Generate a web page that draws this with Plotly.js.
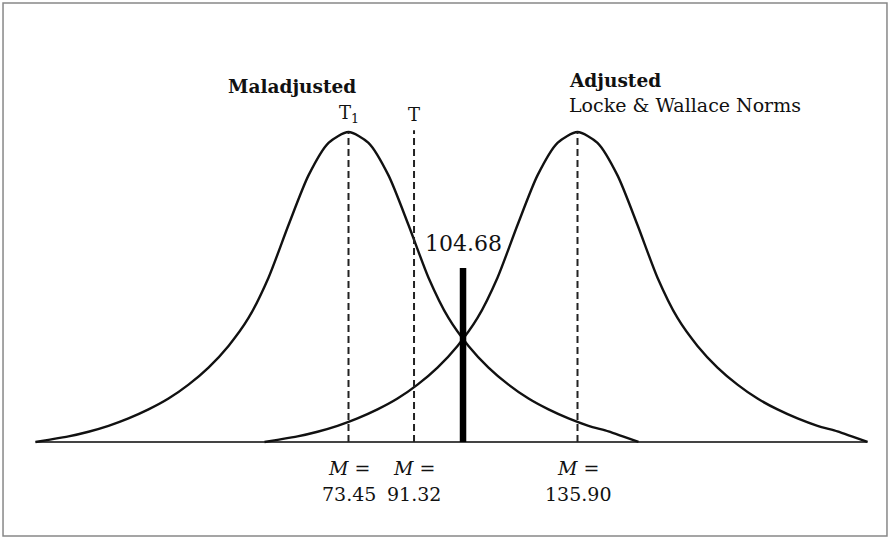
<!DOCTYPE html>
<html>
<head>
<meta charset="utf-8">
<script src="https://cdn.plot.ly/plotly-3.0.1.min.js"></script>
<style>
html,body{margin:0;padding:0;background:#fff;}
#chart{width:890px;height:537px;}
</style>
</head>
<body>
<div id="chart"></div>
<script>
// Group labels
const groupNames = ['Maladjusted', 'Adjusted'];
const normLabel = 'Locke & Wallace Norms';
// Means (score scale)
const meanT1 = 73.45;     // maladjusted mean (T1)
const meanT = 91.32;      // T
const meanAdj = 135.90;   // adjusted mean
const cutScore = 104.68;  // cutoff
const cutHeight = 0.561;  // relative height of cutoff bar
const peakHeight = 1.0;   // relative peak height
const tLineHeight = 1.006;

// Maladjusted curve (score, relative height)
const malX = [-11.91, -8.36, -2.91, 2.55, 8.0, 13.45, 18.91, 24.36, 29.82, 35.27, 40.73, 46.18, 51.63, 57.09, 62.54, 68.0, 73.45,
              78.9, 84.36, 89.81, 95.27, 100.72, 106.17, 111.63, 117.08, 122.54, 127.99, 133.45, 138.9, 144.35, 148.45, 152.53];
const malY = [0, 0.007, 0.018, 0.033, 0.052, 0.076, 0.105, 0.14, 0.185, 0.24, 0.31, 0.40, 0.53, 0.70, 0.86, 0.965, 1.0,
              0.965, 0.86, 0.70, 0.53, 0.40, 0.31, 0.24, 0.185, 0.14, 0.105, 0.076, 0.052, 0.034, 0.017, 0];

// Adjusted curve (score, relative height)
const adjX = [50.54, 54.09, 59.54, 65.0, 70.45, 75.9, 81.36, 86.81, 92.27, 97.72, 103.18, 108.63, 114.08, 119.54, 124.99, 130.45, 135.9,
              141.35, 146.81, 152.26, 157.72, 163.17, 168.62, 174.08, 179.53, 184.99, 190.44, 195.9, 201.35, 206.8, 210.9, 214.98];
const adjY = [0, 0.007, 0.018, 0.033, 0.052, 0.076, 0.105, 0.14, 0.185, 0.24, 0.31, 0.40, 0.53, 0.70, 0.86, 0.965, 1.0,
              0.965, 0.86, 0.70, 0.53, 0.40, 0.31, 0.24, 0.185, 0.14, 0.105, 0.076, 0.052, 0.034, 0.017, 0];

const meanTickVals = [meanT1, meanT, meanAdj];
const meanTickText = ['73.45', '91.32', '135.90'];

const SERIF = 'DejaVu Serif, Liberation Serif, serif';
const dash = '7px,4px';

const baseMin = Math.min(...malX, ...adjX);
const baseMax = Math.max(...malX, ...adjX);

const traces = [
  {x: [baseMin, baseMax], y: [0, 0], mode: 'lines', line: {color: '#444', width: 2}, hoverinfo: 'skip'},
  {x: malX, y: malY, mode: 'lines', line: {color: '#111', width: 2.4, shape: 'spline', smoothing: 0.7}, name: groupNames[0]},
  {x: adjX, y: adjY, mode: 'lines', line: {color: '#111', width: 2.4, shape: 'spline', smoothing: 0.7}, name: groupNames[1]},
  {x: [meanT1, meanT1], y: [0, peakHeight], mode: 'lines', line: {color: '#222', width: 2, dash: dash}},
  {x: [meanT, meanT], y: [0, tLineHeight], mode: 'lines', line: {color: '#222', width: 2, dash: dash}},
  {x: [meanAdj, meanAdj], y: [0, peakHeight], mode: 'lines', line: {color: '#222', width: 2, dash: dash}},
  {x: [cutScore, cutScore], y: [0, cutHeight], mode: 'lines', line: {color: '#000', width: 6.5}}
];

const annotations = [];
meanTickVals.forEach((v, i) => {
  annotations.push({x: v, y: -0.084, xref: 'x', yref: 'y', text: '<i>M</i> =', showarrow: false,
    font: {family: SERIF, size: 19, color: '#111'}, xanchor: 'center', yanchor: 'middle'});
  annotations.push({x: v, y: -0.168, xref: 'x', yref: 'y', text: meanTickText[i], showarrow: false,
    font: {family: SERIF, size: 19, color: '#111'}, xanchor: 'center', yanchor: 'middle'});
});
annotations.push({x: 76.0, y: 1.148, xref: 'x', yref: 'y', text: '<b>' + groupNames[0] + '</b>', showarrow: false,
  font: {family: SERIF, size: 18.5, color: '#111'}, xanchor: 'right', yanchor: 'middle'});
annotations.push({x: 133.0, y: 1.165, xref: 'x', yref: 'y', text: '<b>' + groupNames[1] + '</b>', showarrow: false,
  font: {family: SERIF, size: 18.5, color: '#111'}, xanchor: 'left', yanchor: 'middle'});
annotations.push({x: 133.0, y: 1.087, xref: 'x', yref: 'y', text: normLabel, showarrow: false,
  font: {family: SERIF, size: 19, color: '#111'}, xanchor: 'left', yanchor: 'middle'});
annotations.push({x: meanT1, y: 1.058, xref: 'x', yref: 'y', text: 'T<sub>1</sub>', showarrow: false,
  font: {family: SERIF, size: 18, color: '#111'}, xanchor: 'center', yanchor: 'middle'});
annotations.push({x: meanT, y: 1.058, xref: 'x', yref: 'y', text: 'T', showarrow: false,
  font: {family: SERIF, size: 18, color: '#111'}, xanchor: 'center', yanchor: 'middle'});
annotations.push({x: cutScore, y: 0.640, xref: 'x', yref: 'y', text: cutScore.toFixed(2), showarrow: false,
  font: {family: SERIF, size: 22, color: '#111'}, xanchor: 'center', yanchor: 'middle'});

const layout = {
  width: 890, height: 537,
  margin: {l: 0, r: 0, t: 0, b: 0},
  paper_bgcolor: '#fff', plot_bgcolor: '#fff',
  showlegend: false,
  xaxis: {range: [-21.59, 221.12], visible: false, fixedrange: true},
  yaxis: {range: [-0.3065, 1.4258], visible: false, fixedrange: true},
  annotations: annotations,
  shapes: [
    {type: 'rect', xref: 'paper', yref: 'paper', x0: 0.0034, x1: 0.9966, y0: 0.0019, y1: 0.9944,
      line: {color: '#888', width: 1.5}, fillcolor: 'rgba(0,0,0,0)'}
  ]
};

Plotly.newPlot('chart', traces, layout, {displayModeBar: false, staticPlot: true});
</script>
</body>
</html>
